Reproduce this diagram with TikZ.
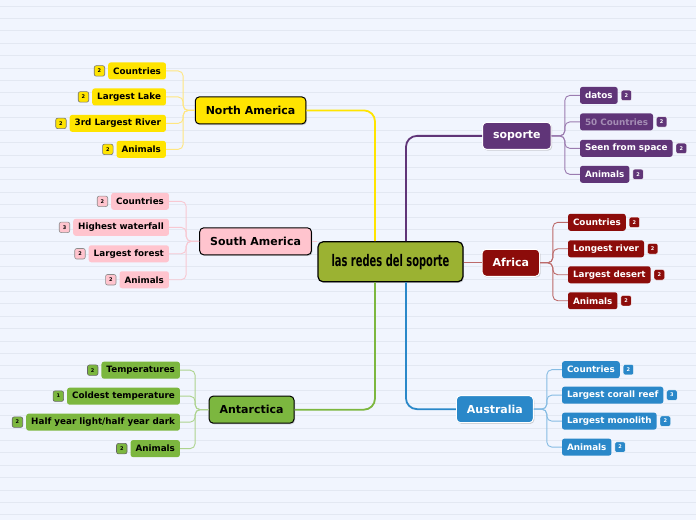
\documentclass[tikz,border=0pt]{standalone}
\usepackage{fontspec}
\usepackage{graphicx}
\setmainfont{DejaVu Sans}
\usetikzlibrary{positioning,shadows}
\definecolor{PaperBlue}{HTML}{F1F5FE}
\definecolor{RuleBlue}{HTML}{E3E8F2}
\definecolor{HubOlive}{HTML}{9BB232}
\definecolor{NAYellow}{HTML}{FFE400}
\definecolor{NALine}{HTML}{FFE680}
\definecolor{SAPink}{HTML}{FFC4CE}
\definecolor{SALine}{HTML}{F8C8D2}
\definecolor{AntGreen}{HTML}{7CB73F}
\definecolor{AntLine}{HTML}{ADD38E}
\definecolor{SopPurple}{HTML}{603578}
\definecolor{SopLine}{HTML}{9B7CB0}
\definecolor{AfrRed}{HTML}{8C0C0A}
\definecolor{AfrLine}{HTML}{BC6A6A}
\definecolor{AusBlue}{HTML}{2A88C9}
\definecolor{AusLine}{HTML}{86BCE3}
\definecolor{MutedLilac}{HTML}{A48DB4}

\begin{document}
\begin{tikzpicture}[x=1pt,y=-1pt,
    topic/.style={rounded corners=4pt,line width=1pt,font=\fontsize{11}{13}\selectfont\bfseries,
                  inner xsep=10.5pt,minimum height=27pt,
                  drop shadow={opacity=0.35,shadow xshift=1pt,shadow yshift=-1.2pt}},
    lefttopic/.style={topic,draw=black,text=black},
    righttopic/.style={topic,draw=white,text=white},
    leaf/.style={rounded corners=2.5pt,font=\fontsize{8.8}{10}\selectfont\bfseries,
                 inner xsep=5pt,inner ysep=0pt,minimum height=17pt},
    badge/.style={rounded corners=2pt,minimum size=10.5pt,inner sep=0pt,
                  font=\fontsize{5}{5}\selectfont\bfseries,line width=0.6pt},
    twig/.style={rounded corners=5pt,line width=0.9pt},
    bough/.style={rounded corners=11pt,line width=1.8pt}]

  % paper
  \fill[PaperBlue] (0,0) rectangle (696,520);
  \foreach \k in {0,...,41}
    \draw[RuleBlue,line width=0.6pt] (0,{5.9+12.42*\k}) -- (696,{5.9+12.42*\k});
  \useasboundingbox (0,0) rectangle (696,520);

  \coordinate (naStem)  at (183,110.5);
  \coordinate (saStem)  at (186,241.5);
  \coordinate (antStem) at (195,410);
  \coordinate (sopStem) at (565,136);
  \coordinate (afrStem) at (553,263);
  \coordinate (ausStem) at (547,409.5);

  % central topic
  \node[draw=black,line width=1.2pt,fill=HubOlive,rounded corners=5pt,
        minimum width=145pt,minimum height=40pt,
        drop shadow={opacity=0.35,shadow xshift=1pt,shadow yshift=-1.2pt}] (hub) at (390.5,262)
        {\scalebox{0.62}[1]{\fontsize{16}{16}\selectfont\bfseries las redes del soporte}};

  % main topics
  \node[lefttopic,fill=NAYellow] (na)  at (250.5,110.5) {North America};
  \node[lefttopic,fill=SAPink]   (sa)  at (255.5,241.5) {South America};
  \node[lefttopic,fill=AntGreen] (ant) at (251.5,410)   {Antarctica};
  \node[righttopic,fill=SopPurple] (sop) at (517,136)   {soporte};
  \node[righttopic,fill=AfrRed]    (afr) at (511,263)   {Africa};
  \node[righttopic,fill=AusBlue]   (aus) at (495,409.5) {Australia};

  % North America
  \node[leaf,fill=NAYellow,anchor=east] (na1) at (166,71)    {Countries};
  \node[leaf,fill=NAYellow,anchor=east] (na2) at (166,97)    {Largest Lake};
  \node[leaf,fill=NAYellow,anchor=east] (na3) at (166,123.5) {3rd Largest River};
  \node[leaf,fill=NAYellow,anchor=east] (na4) at (166,149.5) {Animals};
  \node[badge,fill=NAYellow,draw=black!55,left=3pt of na1] (naB1) {2};
  \node[badge,fill=NAYellow,draw=black!55,left=3pt of na2] (naB2) {2};
  \node[badge,fill=NAYellow,draw=black!55,left=3pt of na3] (naB3) {2};
  \node[badge,fill=NAYellow,draw=black!55,left=3pt of na4] (naB4) {2};

  % South America
  \node[leaf,fill=SAPink,anchor=east] (sa1) at (169,201.5) {Countries};
  \node[leaf,fill=SAPink,anchor=east] (sa2) at (169,227.5) {Highest waterfall};
  \node[leaf,fill=SAPink,anchor=east] (sa3) at (169,254)   {Largest forest};
  \node[leaf,fill=SAPink,anchor=east] (sa4) at (169,280)   {Animals};
  \node[badge,fill=SAPink,draw=black!45,left=3pt of sa1] (saB1) {2};
  \node[badge,fill=SAPink,draw=black!45,left=3pt of sa2] (saB2) {3};
  \node[badge,fill=SAPink,draw=black!45,left=3pt of sa3] (saB3) {2};
  \node[badge,fill=SAPink,draw=black!45,left=3pt of sa4] (saB4) {2};

  % Antarctica
  \node[leaf,fill=AntGreen,anchor=east] (ant1) at (180,370.5) {Temperatures};
  \node[leaf,fill=AntGreen,anchor=east] (ant2) at (180,396.5) {Coldest temperature};
  \node[leaf,fill=AntGreen,anchor=east] (ant3) at (180,422.5) {Half year light/half year dark};
  \node[leaf,fill=AntGreen,anchor=east] (ant4) at (180,449)   {Animals};
  \node[badge,fill=AntGreen,draw=black!60,left=3pt of ant1] (antB1) {2};
  \node[badge,fill=AntGreen,draw=black!60,left=3pt of ant2] (antB2) {1};
  \node[badge,fill=AntGreen,draw=black!60,left=3pt of ant3] (antB3) {2};
  \node[badge,fill=AntGreen,draw=black!60,left=3pt of ant4] (antB4) {2};

  % soporte
  \node[leaf,fill=SopPurple,text=white,anchor=west]      (sop1) at (580,95.5)  {datos};
  \node[leaf,fill=SopPurple,text=MutedLilac,anchor=west] (sop2) at (580,122)   {50 Countries};
  \node[leaf,fill=SopPurple,text=white,anchor=west]      (sop3) at (580,148.5) {Seen from space};
  \node[leaf,fill=SopPurple,text=white,anchor=west]      (sop4) at (580,174.5) {Animals};
  \node[badge,fill=SopPurple,text=white,draw=white,line width=0.4pt,right=3pt of sop1] (sopB1) {2};
  \node[badge,fill=SopPurple,text=white,draw=white,line width=0.4pt,right=3pt of sop2] (sopB2) {2};
  \node[badge,fill=SopPurple,text=white,draw=white,line width=0.4pt,right=3pt of sop3] (sopB3) {2};
  \node[badge,fill=SopPurple,text=white,draw=white,line width=0.4pt,right=3pt of sop4] (sopB4) {2};

  % Africa
  \node[leaf,fill=AfrRed,text=white,anchor=west] (afr1) at (568,222.5) {Countries};
  \node[leaf,fill=AfrRed,text=white,anchor=west] (afr2) at (568,249)   {Longest river};
  \node[leaf,fill=AfrRed,text=white,anchor=west] (afr3) at (568,275)   {Largest desert};
  \node[leaf,fill=AfrRed,text=white,anchor=west] (afr4) at (568,301)   {Animals};
  \node[badge,fill=AfrRed,text=white,draw=white,line width=0.4pt,right=3pt of afr1] (afrB1) {2};
  \node[badge,fill=AfrRed,text=white,draw=white,line width=0.4pt,right=3pt of afr2] (afrB2) {2};
  \node[badge,fill=AfrRed,text=white,draw=white,line width=0.4pt,right=3pt of afr3] (afrB3) {2};
  \node[badge,fill=AfrRed,text=white,draw=white,line width=0.4pt,right=3pt of afr4] (afrB4) {2};

  % Australia
  \node[leaf,fill=AusBlue,text=white,anchor=west] (aus1) at (562,370)   {Countries};
  \node[leaf,fill=AusBlue,text=white,anchor=west] (aus2) at (562,395.5) {Largest corall reef};
  \node[leaf,fill=AusBlue,text=white,anchor=west] (aus3) at (562,421.5) {Largest monolith};
  \node[leaf,fill=AusBlue,text=white,anchor=west] (aus4) at (562,447.5) {Animals};
  \node[badge,fill=AusBlue,text=white,draw=white,line width=0.4pt,right=3pt of aus1] (ausB1) {2};
  \node[badge,fill=AusBlue,text=white,draw=white,line width=0.4pt,right=3pt of aus2] (ausB2) {3};
  \node[badge,fill=AusBlue,text=white,draw=white,line width=0.4pt,right=3pt of aus3] (ausB3) {2};
  \node[badge,fill=AusBlue,text=white,draw=white,line width=0.4pt,right=3pt of aus4] (ausB4) {2};

  % branches from the centre
  \draw[bough,NAYellow]  (na.east) -| ([xshift=-15.5pt]hub.north);
  \draw[bough,SopPurple] ([xshift=15.5pt]hub.north) |- (sop.west);
  \draw[bough,AntGreen]  (ant.east) -| ([xshift=-15.5pt]hub.south);
  \draw[bough,AusBlue]   ([xshift=15.5pt]hub.south) |- (aus.west);
  \draw[SALine,line width=0.9pt] (sa.east) -- (sa.east -| hub.west);
  \draw[AfrLine,line width=0.9pt] (hub.east |- afr.west) -- (afr.west);

  % twigs
  \foreach \c in {na1,na2,na3,na4}
    \draw[twig,NALine] (na.west) -- (naStem) |- (\c.east);
  \foreach \c in {sa1,sa2,sa3,sa4}
    \draw[twig,SALine] (sa.west) -- (saStem) |- (\c.east);
  \foreach \c in {ant1,ant2,ant3,ant4}
    \draw[twig,AntLine] (ant.west) -- (antStem) |- (\c.east);
  \foreach \c in {sop1,sop2,sop3,sop4}
    \draw[twig,SopLine] (sop.east) -- (sopStem) |- (\c.west);
  \foreach \c in {afr1,afr2,afr3,afr4}
    \draw[twig,AfrLine] (afr.east) -- (afrStem) |- (\c.west);
  \foreach \c in {aus1,aus2,aus3,aus4}
    \draw[twig,AusLine] (aus.east) -- (ausStem) |- (\c.west);
\end{tikzpicture}
\end{document}
